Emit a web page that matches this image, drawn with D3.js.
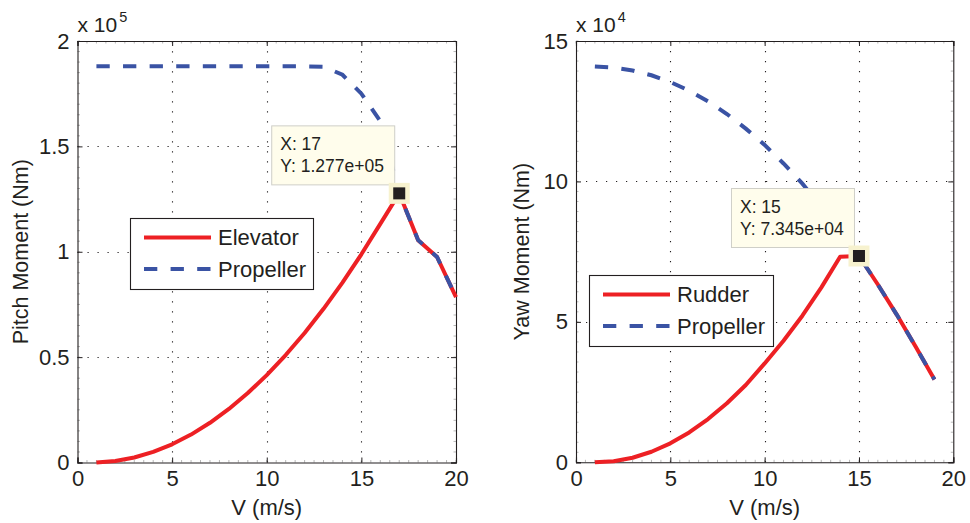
<!DOCTYPE html>
<html><head><meta charset="utf-8">
<script src="https://cdn.jsdelivr.net/npm/d3@7/dist/d3.min.js"></script>
<style>
html,body{margin:0;padding:0;background:#fff;}
svg{display:block;}
text{font-family:"Liberation Sans",Arial,Helvetica,sans-serif;fill:#231f20;}
</style></head>
<body>
<svg id="chart" width="970" height="523"></svg>
<script>
// ---------- data ----------
const speedPitch = [1,2,3,4,5,6,7,8,9,10,11,12,13,14,15,16,17,18,19,20];
const elevatorMoment = [0.0002,0.0071,0.0237,0.0502,0.0864,0.1325,0.1884,0.2540,0.3295,0.4147,0.5098,0.6147,0.7293,0.8538,0.9880,1.1321,1.277,1.055,0.975,0.785]; // x 10^5
const propellerPitch = [1.88,1.88,1.88,1.88,1.88,1.88,1.88,1.88,1.88,1.88,1.88,1.88,1.878,1.84,1.75,1.62,1.277,1.055,0.975,0.785]; // x 10^5

const speedYaw = [1,2,3,4,5,6,7,8,9,10,11,12,13,14,15,16,17,18,19];
const rudderMoment = [0.0002,0.0377,0.1627,0.3753,0.6757,1.0634,1.5389,2.1019,2.7526,3.52,4.33,5.22,6.22,7.32,7.345,6.33,5.26,4.12,2.95]; // x 10^4
const propellerYaw = [14.09,14.055,13.95,13.78,13.54,13.23,12.85,12.40,11.88,11.30,10.64,9.92,9.12,8.26,7.345,6.33,5.26,4.12,2.95]; // x 10^4

const xTicks = [0,5,10,15,20];
const pitchTicks = [0,0.5,1,1.5,2];
const pitchTickLabels = ["0","0.5","1","1.5","2"];
const yawTicks = [0,5,10,15];
const yawTickLabels = ["0","5","10","15"];

const pitchTip = {x:17, y:1.277, lines:["X: 17","Y: 1.277e+05"]};
const yawTip = {x:15, y:7.345, lines:["X: 15","Y: 7.345e+04"]};

// ---------- style ----------
const RED = "#ed2024", BLUE = "#3a53a4";
const svg = d3.select("#chart");

function panel(cfg){
  const g = svg.append("g");
  const x = d3.scaleLinear().domain([0,20]).range([cfg.left, cfg.right]);
  const y = d3.scaleLinear().domain(cfg.ydom).range([cfg.bottom, cfg.top]);

  // grid
  const grid = g.append("g").attr("stroke","#231f20").attr("stroke-width",1.1)
      .attr("stroke-dasharray","1.2,8.8").attr("fill","none");
  xTicks.slice(1,-1).forEach(t=>{
    grid.append("line").attr("x1",Math.round(x(t))+0.5).attr("x2",Math.round(x(t))+0.5)
      .attr("y1",cfg.bottom).attr("y2",cfg.top);
  });
  cfg.yticks.slice(1,-1).forEach(t=>{
    grid.append("line").attr("y1",Math.round(y(t))+0.5).attr("y2",Math.round(y(t))+0.5)
      .attr("x1",cfg.left).attr("x2",cfg.right);
  });

  // minor ticks
  const minor = g.append("g").attr("stroke","#999").attr("stroke-width",0.7);
  d3.range(0,20.001,0.5).forEach(t=>{
    const px = x(t);
    minor.append("line").attr("x1",px).attr("x2",px).attr("y1",cfg.bottom).attr("y2",cfg.bottom-2.5);
    minor.append("line").attr("x1",px).attr("x2",px).attr("y1",cfg.top).attr("y2",cfg.top+2.5);
  });
  d3.range(cfg.ydom[0],cfg.ydom[1]+1e-6,cfg.minorStep).forEach(t=>{
    const py = y(t);
    minor.append("line").attr("y1",py).attr("y2",py).attr("x1",cfg.left).attr("x2",cfg.left+2.5);
    minor.append("line").attr("y1",py).attr("y2",py).attr("x1",cfg.right).attr("x2",cfg.right-2.5);
  });

  // axes (box + major ticks inward)
  const axB = d3.axisBottom(x).tickValues(xTicks).tickSize(-5).tickFormat(d3.format("d")).tickPadding(8);
  const axT = d3.axisTop(x).tickValues(xTicks).tickSize(-5).tickFormat("");
  const axL = d3.axisLeft(y).tickValues(cfg.yticks).tickSize(-5).tickPadding(8)
      .tickFormat((d,i)=>cfg.ylabels[i]);
  const axR = d3.axisRight(y).tickValues(cfg.yticks).tickSize(-5).tickFormat("");
  [[axB,`translate(0,${cfg.bottom})`,true],[axT,`translate(0,${cfg.top})`,false],
   [axL,`translate(${cfg.left},0)`,false],[axR,`translate(${cfg.right},0)`,false]].forEach(([a,tr,isB])=>{
    const ag = g.append("g").attr("transform",tr).call(a);
    ag.select(".domain").attr("stroke","#231f20").attr("stroke-width",1.1);
    ag.selectAll(".tick line").attr("stroke","#231f20").attr("stroke-width",1);
    ag.selectAll("text").attr("font-size",22).attr("fill","#231f20")
      .attr("font-family",'"Liberation Sans",Arial,sans-serif');
    if(isB) ag.selectAll("text").attr("dy","0.7em");
  });

  // lines
  const line = d3.line().x(d=>x(d[0])).y(d=>y(d[1]));
  g.append("path").datum(cfg.sx.map((v,i)=>[v,cfg.s1[i]]))
    .attr("d",line).attr("fill","none").attr("stroke",RED).attr("stroke-width",4)
    .attr("stroke-linejoin","round");
  g.append("path").datum(cfg.sx.map((v,i)=>[v,cfg.s2[i]]))
    .attr("d",line).attr("fill","none").attr("stroke",BLUE).attr("stroke-width",4)
    .attr("stroke-dasharray","13.3,13.3");

  // exponent label
  const ex = g.append("text").attr("x",cfg.left).attr("y",32).attr("font-size",21);
  ex.append("tspan").text("x 10");
  ex.append("tspan").attr("font-size",14.5).attr("dy",-10).attr("dx",2).text(cfg.exp);

  // axis labels
  g.append("text").attr("x",(cfg.left+cfg.right)/2).attr("y",515).attr("text-anchor","middle")
    .attr("font-size",22).text("V (m/s)");
  g.append("text").attr("transform",`translate(${cfg.ylabelX},${(cfg.top+cfg.bottom)/2}) rotate(-90)`)
    .attr("text-anchor","middle").attr("font-size",21.5).text(cfg.ylabel);

  // legend
  const L = cfg.legend;
  const lg = g.append("g");
  lg.append("rect").attr("x",L.x+0.5).attr("y",L.y+0.5).attr("width",L.w).attr("height",L.h)
    .attr("fill","#fff").attr("stroke","#231f20").attr("stroke-width",1.1);
  const rows=[{name:cfg.names[0],c:RED,dash:null},{name:cfg.names[1],c:BLUE,dash:"13.3,13.3"}];
  rows.forEach((r,i)=>{
    const yy = L.y + 19.5 + i*31.5;
    lg.append("line").attr("x1",L.x+14).attr("x2",L.x+81).attr("y1",yy).attr("y2",yy)
      .attr("stroke",r.c).attr("stroke-width",4).attr("stroke-dasharray",r.dash);
    lg.append("text").attr("x",L.x+88).attr("y",yy).attr("dy","0.36em").attr("font-size",22).text(r.name);
  });

  // datatip
  const tip = cfg.tip;
  const mx = x(tip.x), my = y(tip.y);
  const bw=123, bh=59, bx = mx-5-bw, by = my-9-bh;
  g.append("rect").attr("x",bx+0.5).attr("y",by+0.5).attr("width",bw).attr("height",bh)
    .attr("fill","#fffdec").attr("stroke","#cfcfc8").attr("stroke-width",1);
  tip.lines.forEach((t,i)=>{
    g.append("text").attr("x",bx+9).attr("y",by+25+i*21.5).attr("font-size",17.5).text(t);
  });
  g.append("rect").attr("x",mx-10.5).attr("y",my-10.5).attr("width",21).attr("height",21).attr("fill","#f7f2cf");
  g.append("rect").attr("x",mx-6).attr("y",my-6).attr("width",12).attr("height",12).attr("fill","#231f20");
}

panel({left:77.5,right:456,top:41,bottom:462.5,ydom:[0,2],yticks:pitchTicks,ylabels:pitchTickLabels,
  minorStep:0.05,sx:speedPitch,s1:elevatorMoment,s2:propellerPitch,exp:"5",
  ylabel:"Pitch Moment (Nm)",ylabelX:28,names:["Elevator","Propeller"],
  legend:{x:130,y:218,w:183,h:71},tip:pitchTip});
panel({left:576,right:953.3,top:41,bottom:462.3,ydom:[0,15],yticks:yawTicks,ylabels:yawTickLabels,
  minorStep:5/14,sx:speedYaw,s1:rudderMoment,s2:propellerYaw,exp:"4",
  ylabel:"Yaw Moment (Nm)",ylabelX:529,names:["Rudder","Propeller"],
  legend:{x:589,y:275,w:184,h:71},tip:yawTip});
</script>
</body></html>
